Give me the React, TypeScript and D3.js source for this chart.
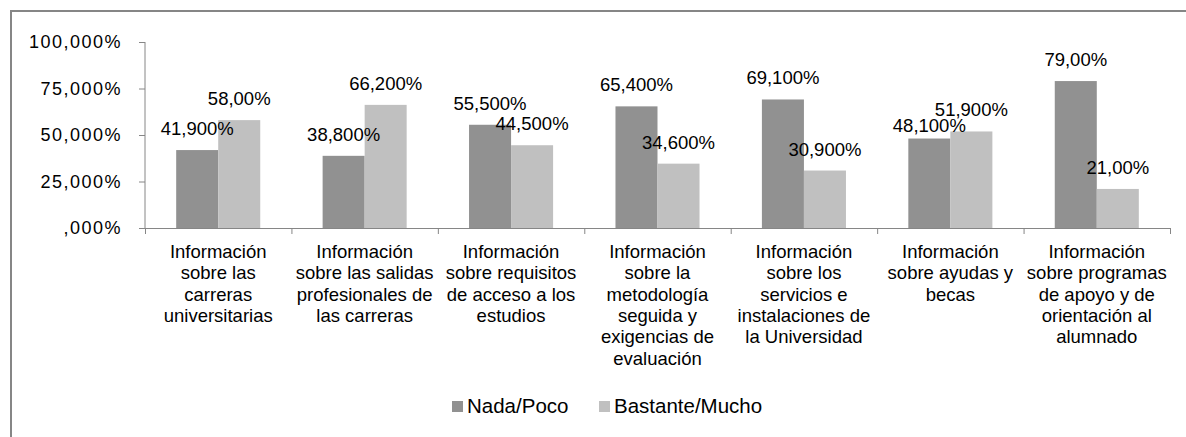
import React, { useRef, useEffect } from "react"
import * as d3 from "d3"

const categories = [
  "Información|sobre las|carreras|universitarias",
  "Información|sobre las salidas|profesionales de|las carreras",
  "Información|sobre requisitos|de acceso a los|estudios",
  "Información|sobre la|metodología|seguida y|exigencias de|evaluación",
  "Información|sobre los|servicios e|instalaciones de|la Universidad",
  "Información|sobre ayudas y|becas",
  "Información|sobre programas|de apoyo y de|orientación al|alumnado",
]
const seriesNames = ["Nada/Poco", "Bastante/Mucho"]
const nadaPoco = [41.9, 38.8, 55.5, 65.4, 69.1, 48.1, 79.0]
const bastanteMucho = [58.0, 66.2, 44.5, 34.6, 30.9, 51.9, 21.0]
const nadaLabels = ["41,900%", "38,800%", "55,500%", "65,400%", "69,100%", "48,100%", "79,00%"]
const bastanteLabels = ["58,00%", "66,200%", "44,500%", "34,600%", "30,900%", "51,900%", "21,00%"]
const yTicks = [0, 25, 50, 75, 100]
const yTickLabels = [",000%", "25,000%", "50,000%", "75,000%", "100,000%"]

const colors = ["#919191", "#c0c0c0"]
const font = "'Liberation Sans', Arial, sans-serif"

const App: React.FC = () => {
  const svgRef = useRef<SVGSVGElement>(null)

  const W = 1186
  const H = 437
  const margin = { top: 42, left: 145, right: 16, bottom: 207 }

  useEffect(() => {
    const svg = d3.select(svgRef.current)
    svg.selectAll("*").remove()

    // outer border of the chart area
    svg.append("rect")
      .attr("x", 11).attr("y", 11)
      .attr("width", 1300).attr("height", 500)
      .attr("fill", "none")
      .attr("stroke", "#868686")
      .attr("stroke-width", 2)

    const x = d3.scaleBand<number>()
      .domain(categories.map((d, i) => i))
      .range([margin.left, W - margin.right])
      .paddingInner(0.426)
      .paddingOuter(0.213)

    const xSub = d3.scaleBand<number>()
      .domain([0, 1])
      .range([0, x.bandwidth()])

    const y = d3.scaleLinear()
      .domain([0, 100])
      .range([H - margin.bottom - 2, margin.top])

    const step = x.step()
    const x0 = margin.left
    const x1 = margin.left + step * categories.length

    // axes
    const axisColor = "#868686"
    svg.append("line")
      .attr("x1", x0).attr("x2", x0)
      .attr("y1", y(100)).attr("y2", y(0))
      .attr("stroke", axisColor)
    svg.selectAll(".ytick")
      .data(yTicks)
      .enter().append("line")
      .attr("x1", x0 - 6).attr("x2", x0)
      .attr("y1", d => y(d) + 0.5).attr("y2", d => y(d) + 0.5)
      .attr("stroke", axisColor)
    svg.selectAll(".ylab")
      .data(yTicks)
      .enter().append("text")
      .attr("x", 122)
      .attr("y", d => y(d))
      .attr("dy", "0.35em")
      .attr("text-anchor", "end")
      .attr("font-family", font)
      .attr("font-size", 18)
      .attr("letter-spacing", 1.5)
      .text((d, i) => yTickLabels[i])

    svg.append("line")
      .attr("x1", x0).attr("x2", x1)
      .attr("y1", y(0) + 0.5).attr("y2", y(0) + 0.5)
      .attr("stroke", axisColor)
    svg.selectAll(".xtick")
      .data(d3.range(categories.length + 1))
      .enter().append("line")
      .attr("x1", d => x0 + d * step + 0.5).attr("x2", d => x0 + d * step + 0.5)
      .attr("y1", y(0)).attr("y2", y(0) + 6)
      .attr("stroke", axisColor)

    // bars
    const series = [nadaPoco, bastanteMucho]
    const labels = [nadaLabels, bastanteLabels]
    series.forEach((vals, s) => {
      svg.selectAll(".bar" + s)
        .data(vals)
        .enter().append("rect")
        .attr("x", (d, i) => (x(i) as number) + (xSub(s) as number))
        .attr("y", d => y(d))
        .attr("width", xSub.bandwidth())
        .attr("height", d => y(0) - y(d))
        .attr("fill", colors[s])
    })

    // data labels
    series.forEach((vals, s) => {
      svg.selectAll(".lab" + s)
        .data(vals)
        .enter().append("text")
        .attr("x", (d, i) => (x(i) as number) + (xSub(s) as number) + xSub.bandwidth() / 2)
        .attr("y", (d, i) => y(d) - (s === 0 && i === 5 ? 7 : 15))
        .attr("text-anchor", "middle")
        .attr("font-family", font)
        .attr("font-size", 18.5)
        .attr("fill", "#000")
        .text((d, i) => labels[s][i])
    })

    // category labels
    categories.forEach((c, i) => {
      const t = svg.append("text")
        .attr("text-anchor", "middle")
        .attr("font-family", font)
        .attr("font-size", 18.5)
        .attr("fill", "#000")
      c.split("|").forEach((line, j) => {
        t.append("tspan")
          .attr("x", (x(i) as number) + x.bandwidth() / 2)
          .attr("y", 258 + j * 21.3)
          .text(line)
      })
    })

    // legend
    const legendX = [452, 599]
    seriesNames.forEach((name, s) => {
      svg.append("rect")
        .attr("x", legendX[s]).attr("y", 401)
        .attr("width", 11).attr("height", 11)
        .attr("fill", colors[s])
      svg.append("text")
        .attr("x", legendX[s] + 15)
        .attr("y", 406)
        .attr("dy", "0.35em")
        .attr("font-family", font)
        .attr("font-size", 20.5)
        .attr("fill", "#000")
        .text(name)
    })
  }, [])

  return (
    <svg
      ref={svgRef}
      width={W}
      height={H}
      style={{ position: "absolute", left: 0, top: 0, background: "#fff" }}
    />
  )
}

export default App
